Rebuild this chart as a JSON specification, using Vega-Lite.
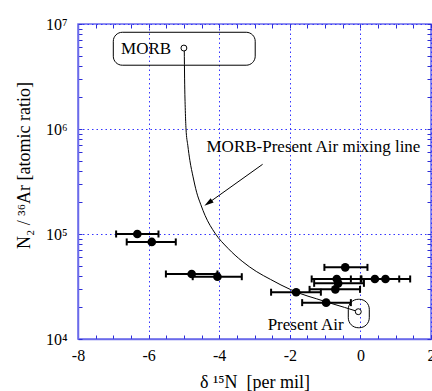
{
  "$schema": "https://vega.github.io/schema/vega-lite/v6.json",
  "width": 353,
  "height": 315,
  "autosize": {"type": "none"},
  "padding": {"left": 78, "top": 24, "right": 1, "bottom": 52},
  "config": {
    "view": {"stroke": "#6b6bea", "strokeWidth": 1.5},
    "font": "Liberation Serif",
    "axis": {
      "domainColor": "#6b6bea",
      "domainWidth": 1.5,
      "tickColor": "#2c2cd9",
      "labelFont": "Liberation Serif",
      "labelFontSize": 16,
      "labelColor": "black",
      "titleFont": "Liberation Serif",
      "titleFontSize": 18,
      "titleFontWeight": "normal",
      "titleColor": "black",
      "gridColor": "#3535ff",
      "gridDash": [1.5, 3],
      "gridWidth": 1
    }
  },
  "datasets": {
    "pts": [
      {"d15N": -6.32, "ratio": 100000, "lo": -6.92, "hi": -5.72},
      {"d15N": -5.91, "ratio": 84000, "lo": -6.62, "hi": -5.23},
      {"d15N": -4.78, "ratio": 41600, "lo": -5.51, "hi": -4.05},
      {"d15N": -4.05, "ratio": 39200, "lo": -4.75, "hi": -3.36},
      {"d15N": -0.43, "ratio": 48100, "lo": -1.02, "hi": 0.2},
      {"d15N": -0.67, "ratio": 37300, "lo": -1.38, "hi": 0.03},
      {"d15N": 0.41, "ratio": 37300, "lo": -0.27, "hi": 1.1},
      {"d15N": 0.71, "ratio": 37300, "lo": 0.01, "hi": 1.41},
      {"d15N": -0.63, "ratio": 33900, "lo": -1.31, "hi": 0.1},
      {"d15N": -0.71, "ratio": 29700, "lo": -1.44, "hi": -0.01},
      {"d15N": -1.82, "ratio": 27900, "lo": -2.53, "hi": -1.12},
      {"d15N": -0.97, "ratio": 22200, "lo": -1.65, "hi": -0.27}
    ],
    "curve": [
      {"d15N": -4.99, "ratio": 5900000},
      {"d15N": -4.98, "ratio": 3000000},
      {"d15N": -4.96, "ratio": 1500000},
      {"d15N": -4.94, "ratio": 1000000},
      {"d15N": -4.89, "ratio": 700000},
      {"d15N": -4.83, "ratio": 500000},
      {"d15N": -4.74, "ratio": 350000},
      {"d15N": -4.64, "ratio": 250000},
      {"d15N": -4.52, "ratio": 190000},
      {"d15N": -4.4, "ratio": 150000},
      {"d15N": -4.12, "ratio": 102000},
      {"d15N": -3.75, "ratio": 73000},
      {"d15N": -3.35, "ratio": 55000},
      {"d15N": -2.95, "ratio": 44000},
      {"d15N": -2.55, "ratio": 37000},
      {"d15N": -2.25, "ratio": 32700},
      {"d15N": -1.72, "ratio": 27200},
      {"d15N": -1.25, "ratio": 24200},
      {"d15N": -0.9, "ratio": 22200},
      {"d15N": -0.45, "ratio": 20000},
      {"d15N": -0.06, "ratio": 18200}
    ]
  },
  "encoding": {
    "x": {"type": "quantitative", "scale": {"domain": [-8, 2], "nice": false, "zero": false}},
    "y": {"type": "quantitative", "scale": {"type": "log", "domain": [10000, 10000000], "nice": false}}
  },
  "resolve": {"axis": {"x": "independent", "y": "independent"}},
  "layer": [
    {
      "data": {"name": "pts"},
      "mark": {"type": "point", "opacity": 0},
      "encoding": {
        "x": {"field": "d15N", "type": "quantitative", "title": "δ\u00a0¹⁵N\u00a0\u00a0[per\u00a0mil]",
          "axis": {
            "orient": "bottom",
            "values": [-8, -7.5, -7, -6.5, -6, -5.5, -5, -4.5, -4, -3.5, -3, -2.5, -2, -1.5, -1, -0.5, 0, 0.5, 1, 1.5, 2],
            "labelExpr": "datum.value % 2 === 0 ? '' + datum.value : ''",
            "grid": true,
            "gridOpacity": {"condition": {"test": "datum.value % 2 === 0", "value": 1}, "value": 0},
            "tickSize": -4,
            "labelPadding": 12,
            "labelFlush": false,
            "labelOverlap": false,
            "titleY": 43,
            "titleBaseline": "middle"
          }
        },
        "y": {"field": "ratio", "type": "quantitative", "title": "N₂\u00a0/\u00a0³⁶Ar\u00a0[atomic\u00a0ratio]",
          "axis": {
            "orient": "left",
            "values": [10000, 20000, 30000, 40000, 50000, 60000, 70000, 80000, 90000, 100000, 200000, 300000, 400000, 500000, 600000, 700000, 800000, 900000, 1000000, 2000000, 3000000, 4000000, 5000000, 6000000, 7000000, 8000000, 9000000, 10000000],
            "labelExpr": "datum.value === 10000 ? '10⁴' : datum.value === 100000 ? '10⁵' : datum.value === 1000000 ? '10⁶' : datum.value === 10000000 ? '10⁷' : ''",
            "grid": true,
            "gridOpacity": {"condition": {"test": "indexof([10000, 100000, 1000000, 10000000], datum.value) >= 0", "value": 1}, "value": 0},
            "tickSize": -4,
            "labelPadding": 15,
            "labelFlush": false,
            "labelOverlap": false,
            "titleX": -54,
            "titleY": 141,
            "titleBaseline": "middle",
            "titleAlign": "center"
          }
        }
      }
    },
    {
      "data": {"name": "pts"},
      "mark": {"type": "point", "opacity": 0},
      "encoding": {
        "x": {"field": "d15N", "type": "quantitative",
          "axis": {
            "orient": "top", "title": null, "labels": false, "domain": false,
            "values": [-8, -7.5, -7, -6.5, -6, -5.5, -5, -4.5, -4, -3.5, -3, -2.5, -2, -1.5, -1, -0.5, 0, 0.5, 1, 1.5, 2],
            "tickSize": -4
          }
        },
        "y": {"field": "ratio", "type": "quantitative",
          "axis": {
            "orient": "right", "title": null, "labels": false, "domain": false,
            "values": [10000, 20000, 30000, 40000, 50000, 60000, 70000, 80000, 90000, 100000, 200000, 300000, 400000, 500000, 600000, 700000, 800000, 900000, 1000000, 2000000, 3000000, 4000000, 5000000, 6000000, 7000000, 8000000, 9000000, 10000000],
            "tickSize": -4
          }
        }
      }
    },
    {
      "data": {"values": [{"x1": -7.0, "x2": -2.98, "y1": 8340000, "y2": 4050000}]},
      "mark": {"type": "rect", "fillOpacity": 0, "stroke": "black", "strokeWidth": 1, "cornerRadius": 9},
      "encoding": {
        "x": {"field": "x1", "type": "quantitative", "axis": null},
        "x2": {"field": "x2"},
        "y": {"field": "y1", "type": "quantitative", "axis": null},
        "y2": {"field": "y2"}
      }
    },
    {
      "data": {"values": [{"x1": -0.343, "x2": 0.252, "y1": 23900, "y2": 12800}]},
      "mark": {"type": "rect", "fillOpacity": 0, "stroke": "black", "strokeWidth": 1, "cornerRadius": 10},
      "encoding": {
        "x": {"field": "x1", "type": "quantitative", "axis": null},
        "x2": {"field": "x2"},
        "y": {"field": "y1", "type": "quantitative", "axis": null},
        "y2": {"field": "y2"}
      }
    },
    {
      "data": {"name": "curve"},
      "mark": {"type": "line", "color": "black", "strokeWidth": 1, "interpolate": "monotone"},
      "encoding": {
        "x": {"field": "d15N", "type": "quantitative", "axis": null},
        "y": {"field": "ratio", "type": "quantitative", "axis": null}
      }
    },
    {
      "data": {"values": [{"x1": -2.77, "y1": 461000, "x2": -4.3, "y2": 198000}]},
      "mark": {"type": "rule", "color": "black", "strokeWidth": 1},
      "encoding": {
        "x": {"field": "x1", "type": "quantitative", "axis": null},
        "x2": {"field": "x2"},
        "y": {"field": "y1", "type": "quantitative", "axis": null},
        "y2": {"field": "y2"}
      }
    },
    {
      "data": {"values": [{"x": -4.31, "y": 197000}]},
      "mark": {"type": "point", "shape": "M0,-1L0.55,1L-0.55,1Z", "filled": true, "color": "black", "opacity": 1, "size": 90, "angle": 234.6},
      "encoding": {
        "x": {"field": "x", "type": "quantitative", "axis": null},
        "y": {"field": "y", "type": "quantitative", "axis": null}
      }
    },
    {
      "data": {"name": "pts"},
      "mark": {"type": "rule", "color": "black", "strokeWidth": 2},
      "encoding": {
        "x": {"field": "lo", "type": "quantitative", "axis": null},
        "x2": {"field": "hi"},
        "y": {"field": "ratio", "type": "quantitative", "axis": null}
      }
    },
    {
      "data": {"name": "pts"},
      "mark": {"type": "tick", "orient": "vertical", "color": "black", "thickness": 2, "size": 7, "opacity": 1},
      "encoding": {
        "x": {"field": "lo", "type": "quantitative", "axis": null},
        "y": {"field": "ratio", "type": "quantitative", "axis": null}
      }
    },
    {
      "data": {"name": "pts"},
      "mark": {"type": "tick", "orient": "vertical", "color": "black", "thickness": 2, "size": 7, "opacity": 1},
      "encoding": {
        "x": {"field": "hi", "type": "quantitative", "axis": null},
        "y": {"field": "ratio", "type": "quantitative", "axis": null}
      }
    },
    {
      "data": {"name": "pts"},
      "mark": {"type": "circle", "color": "black", "opacity": 1, "size": 75},
      "encoding": {
        "x": {"field": "d15N", "type": "quantitative", "axis": null},
        "y": {"field": "ratio", "type": "quantitative", "axis": null}
      }
    },
    {
      "data": {"values": [{"x": -5.0, "y": 5900000}, {"x": -0.06, "y": 18200}]},
      "mark": {"type": "point", "shape": "circle", "filled": false, "fill": "white", "fillOpacity": 1, "stroke": "black", "strokeWidth": 1, "opacity": 1, "size": 35},
      "encoding": {
        "x": {"field": "x", "type": "quantitative", "axis": null},
        "y": {"field": "y", "type": "quantitative", "axis": null}
      }
    },
    {
      "data": {"values": [
        {"x": -6.07, "y": 5780000, "label": "MORB"},
        {"x": -1.33, "y": 678000, "label": "MORB-Present Air mixing line"},
        {"x": -1.55, "y": 13600, "label": "Present Air"}
      ]},
      "mark": {"type": "text", "font": "Liberation Serif", "fontSize": 17, "color": "black", "align": "center", "baseline": "middle"},
      "encoding": {
        "x": {"field": "x", "type": "quantitative", "axis": null},
        "y": {"field": "y", "type": "quantitative", "axis": null},
        "text": {"field": "label"}
      }
    }
  ]
}
